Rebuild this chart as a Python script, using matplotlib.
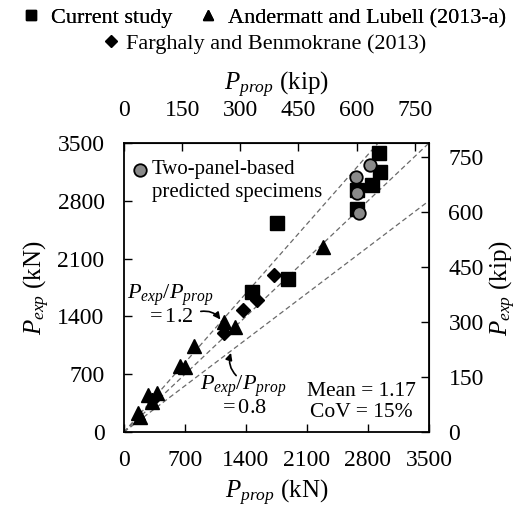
import matplotlib
matplotlib.use("Agg")
import matplotlib.pyplot as plt
from matplotlib.lines import Line2D

plt.rcParams['font.family'] = ['Liberation Serif', 'DejaVu Serif']
plt.rcParams['mathtext.fontset'] = 'custom'
plt.rcParams['mathtext.rm'] = 'Liberation Serif'
plt.rcParams['mathtext.it'] = 'Liberation Serif:italic'

KN_PER_KIP = 4.448

# Data (kN)
current_x = [2926, 2938, 2846, 2674, 2674, 1756, 1882, 1469]
current_y = [3379, 3149, 2991, 2931, 2700, 2531, 1853, 1696]

twopanel_x = [2823, 2662, 2674, 2697]
twopanel_y = [3233, 3088, 2894, 2652]

andermatt_x = [2284, 1148, 1274, 803, 643, 700, 275, 379, 321, 160, 184]
andermatt_y = [2240, 1332, 1271, 1041, 799, 787, 448, 472, 363, 230, 182]

farghaly_x = [1721, 1526, 1366, 1148, 321]
farghaly_y = [1901, 1599, 1477, 1199, 390]

ratios = [1.2, 1.0, 0.8]
kn_ticks = [0, 700, 1400, 2100, 2800, 3500]
kip_ticks = [0, 150, 300, 450, 600, 750]

fig = plt.figure(figsize=(5.28, 5.07), dpi=100)
ax = fig.add_axes([0.2348, 0.1479, 0.5777, 0.570])

ax.set_xlim(0, 3500)
ax.set_ylim(0, 3500)

for r in ratios:
    ax.plot([0, 3500], [0, 3500 * r], ls=(0, (4, 2.5)), color='#6a6a6a', lw=0.9, zorder=1)

ax.plot(current_x, current_y, ls='none', marker='s', ms=10, color='black', zorder=3)
ax.plot(twopanel_x, twopanel_y, ls='none', marker='o', ms=9, mfc='#8a8a8a', mec='black', mew=1.3, zorder=4)
ax.plot(andermatt_x, andermatt_y, ls='none', marker='^', ms=10, color='black', zorder=3)
ax.plot(farghaly_x, farghaly_y, ls='none', marker='D', ms=7.5, color='black', zorder=3)

ax.set_xticks(kn_ticks)
ax.set_yticks(kn_ticks)
ax.tick_params(direction='in', length=6, width=1, labelsize=17)
ax.tick_params(axis='y', pad=14)
ax.tick_params(axis='x', pad=13)
for s in ax.spines.values():
    s.set_linewidth(1.3)

ax.set_xlabel(r'$P_{prop}$ (kN)', fontsize=18, labelpad=5)
ax.set_ylabel(r'$P_{exp}$ (kN)', fontsize=18, labelpad=4)

secx = ax.secondary_xaxis('top', functions=(lambda v: v / KN_PER_KIP, lambda v: v * KN_PER_KIP))
secx.set_xticks(kip_ticks)
secx.tick_params(direction='in', length=6, width=1, labelsize=17, pad=16)
secx.set_xlabel(r'$P_{prop}$ (kip)', fontsize=18, labelpad=7)

secy = ax.secondary_yaxis('right', functions=(lambda v: v / KN_PER_KIP, lambda v: v * KN_PER_KIP))
secy.set_yticks(kip_ticks)
secy.tick_params(direction='in', length=6, width=1, labelsize=17, pad=14)
secy.set_ylabel(r'$P_{exp}$ (kip)', fontsize=18, labelpad=3)

# inner legend for two-panel specimens
ax.plot([0.052], [0.907], transform=ax.transAxes, marker='o', ms=9, mfc='#8a8a8a', mec='black', mew=1.3,
        ls='none', clip_on=False)
ax.text(0.092, 0.907, 'Two-panel-based', transform=ax.transAxes, fontsize=15, va='center', ha='left')
ax.text(0.092, 0.830, 'predicted specimens', transform=ax.transAxes, fontsize=15, va='center', ha='left')

# ratio annotations
ax.text(528, 1540, '$P_{exp}/P_{prop}$\n$= 1.2$', fontsize=16, ha='center', va='center', linespacing=1.0)
ax.annotate('', xy=(1125, 1335), xytext=(850, 1455),
            arrowprops=dict(arrowstyle='-|>', color='black', lw=1.2, mutation_scale=10,
                            connectionstyle='arc3,rad=-0.35'))
ax.text(1366, 436, '$P_{exp}/P_{prop}$\n$= 0.8$', fontsize=16, ha='center', va='center', linespacing=1.0)
ax.annotate('', xy=(1239, 990), xytext=(1310, 660),
            arrowprops=dict(arrowstyle='-|>', color='black', lw=1.2, mutation_scale=10,
                            connectionstyle='arc3,rad=-0.35'))

ax.text(2720, 363, 'Mean = 1.17\nCoV = 15%', fontsize=15.5, ha='center', va='center', linespacing=1.15)

# top legend
h1 = Line2D([], [], ls='none', marker='s', ms=7, color='black')
h2 = Line2D([], [], ls='none', marker='^', ms=7, color='black')
h3 = Line2D([], [], ls='none', marker='D', ms=6, color='black')
leg1 = fig.legend([h1, h2], ['Current study', 'Andermatt and Lubell (2013-a)'], loc='center',
                  bbox_to_anchor=(0.5, 1 - 18 / 507), ncol=2, frameon=False, fontsize=16,
                  handlelength=0.8, handletextpad=0.5, columnspacing=1.2, borderaxespad=0, borderpad=0)
fig.add_artist(leg1)
fig.legend([h3], ['Farghaly and Benmokrane (2013)'], loc='center',
           bbox_to_anchor=(0.5, 1 - 44 / 507), frameon=False, fontsize=16,
           handlelength=0.8, handletextpad=0.3, borderaxespad=0, borderpad=0)

fig.savefig('out.png', dpi=100)
